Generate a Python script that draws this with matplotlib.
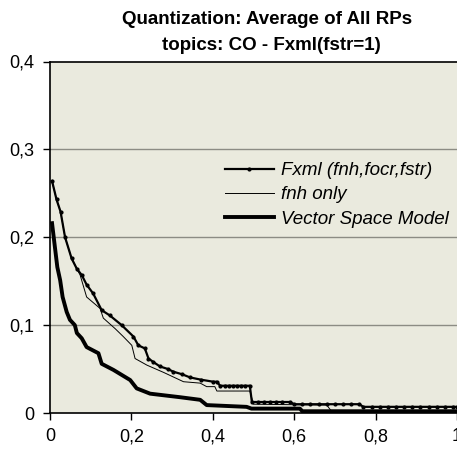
import matplotlib
matplotlib.use('Agg')
import matplotlib.pyplot as plt

plt.rcParams['font.family'] = ['Liberation Sans', 'DejaVu Sans']

# recall values
fxml_x = [0.005, 0.016, 0.026, 0.037, 0.053, 0.066, 0.078, 0.090, 0.106, 0.127,
          0.147, 0.176, 0.205, 0.217, 0.233, 0.242, 0.254, 0.270, 0.290, 0.303,
          0.325, 0.344, 0.370, 0.401, 0.410, 0.418, 0.430, 0.440, 0.450, 0.460,
          0.470, 0.480, 0.491, 0.496, 0.510, 0.525, 0.540, 0.555, 0.570, 0.590,
          0.600, 0.620, 0.640, 0.660, 0.680, 0.700, 0.720, 0.740, 0.760, 0.770,
          0.790, 0.810, 0.830, 0.850, 0.870, 0.890, 0.910, 0.930, 0.950, 0.970,
          0.990, 1.000]
fxml_y = [0.264, 0.243, 0.229, 0.200, 0.176, 0.164, 0.157, 0.146, 0.136, 0.117,
          0.111, 0.100, 0.087, 0.077, 0.0735, 0.062, 0.058, 0.053, 0.050, 0.047,
          0.044, 0.0405, 0.038, 0.0356, 0.0356, 0.031, 0.031, 0.031, 0.031, 0.031,
          0.031, 0.031, 0.031, 0.0125, 0.0125, 0.0125, 0.0125, 0.0125, 0.0125, 0.0125,
          0.010, 0.010, 0.010, 0.010, 0.010, 0.010, 0.010, 0.010, 0.010, 0.007,
          0.007, 0.007, 0.007, 0.007, 0.007, 0.007, 0.007, 0.007, 0.007, 0.007,
          0.007, 0.007]

fnh_x = [0.005, 0.016, 0.026, 0.037, 0.053, 0.066, 0.074, 0.090, 0.123, 0.131,
         0.160, 0.180, 0.201, 0.209, 0.238, 0.280, 0.328, 0.369, 0.385, 0.405,
         0.410, 0.491, 0.500, 0.680, 0.690, 1.000]
fnh_y = [0.264, 0.243, 0.229, 0.200, 0.176, 0.164, 0.157, 0.132, 0.119, 0.108,
         0.096, 0.087, 0.077, 0.062, 0.0545, 0.046, 0.0356, 0.034, 0.030, 0.030,
         0.025, 0.025, 0.010, 0.009, 0.003, 0.002]

vsm_x = [0.005, 0.012, 0.018, 0.025, 0.031, 0.041, 0.049, 0.061, 0.066, 0.078,
         0.090, 0.119, 0.127, 0.156, 0.197, 0.213, 0.246, 0.319, 0.369, 0.385,
         0.483, 0.495, 0.614, 0.620, 1.000]
vsm_y = [0.216, 0.189, 0.166, 0.151, 0.132, 0.115, 0.106, 0.100, 0.091, 0.085,
         0.075, 0.068, 0.056, 0.049, 0.0375, 0.028, 0.022, 0.018, 0.015, 0.009,
         0.007, 0.005, 0.005, 0.002, 0.002]

x_ticks = [0, 0.2, 0.4, 0.6, 0.8, 1.0]
x_labels = ['0', '0,2', '0,4', '0,6', '0,8', '1']
y_ticks = [0, 0.1, 0.2, 0.3, 0.4]
y_labels = ['0', '0,1', '0,2', '0,3', '0,4']

fig = plt.figure(figsize=(4.57, 4.49), dpi=100)
ax = fig.add_axes([50 / 457, 1 - 413 / 449, 407 / 457, (413 - 61.5) / 449])
ax.set_facecolor('#EAEADE')

for gy in [0.1, 0.2, 0.3]:
    ax.axhline(gy, color='#8C8C84', lw=1.0, zorder=1)

ax.plot(fxml_x, fxml_y, color='black', lw=1.6, marker='o', markersize=2,
        label='Fxml (fnh,focr,fstr)', zorder=4)
ax.plot(fnh_x, fnh_y, color='black', lw=0.7, label='fnh only', zorder=3)
ax.plot(vsm_x, vsm_y, color='black', lw=2.8, label='Vector Space Model', zorder=3)

ax.set_xlim(0, 1)
ax.set_ylim(0, 0.4)
ax.set_xticks(x_ticks)
ax.set_xticklabels(x_labels)
ax.set_yticks(y_ticks)
ax.set_yticklabels(y_labels)
ax.tick_params(direction='out', length=5, width=1, labelsize=13, pad=6)

for side in ['left', 'bottom', 'top']:
    ax.spines[side].set_color('black')
    ax.spines[side].set_linewidth(1.2)
ax.spines['right'].set_visible(False)

leg = ax.legend(loc='upper left', bbox_to_anchor=(225 / 457, 1 - 162 / 449),
                bbox_transform=fig.transFigure, frameon=False, fontsize=13.5,
                handlelength=2.6, handletextpad=0.4, labelspacing=0.38,
                borderpad=0, borderaxespad=0, numpoints=1)
for t in leg.get_texts():
    t.set_fontstyle('italic')

fig.text(267 / 457, 1 - 19 / 449, 'Quantization: Average of All RPs',
         ha='center', va='center', fontsize=13.5, fontweight='bold')
fig.text(271 / 457, 1 - 45 / 449, 'topics: CO - Fxml(fstr=1)',
         ha='center', va='center', fontsize=13.5, fontweight='bold')

fig.savefig('out.png', dpi=100, facecolor='white')
